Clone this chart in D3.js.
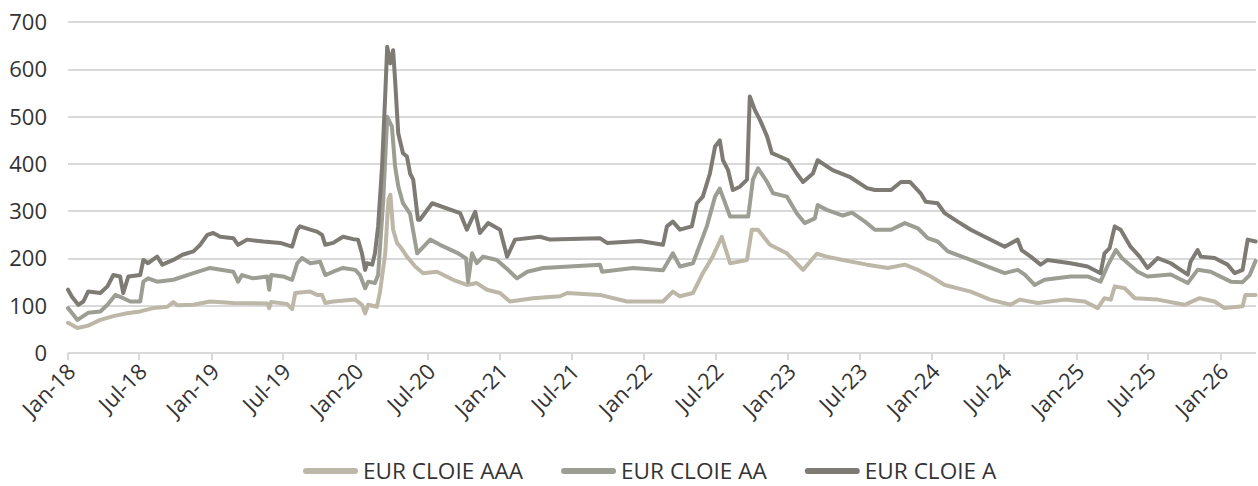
<!DOCTYPE html>
<html>
<head>
<meta charset="utf-8">
<title>EUR CLOIE spreads</title>
<script src="https://d3js.org/d3.v7.min.js"></script>
<style>
body { margin: 0; background: #fff; font-family: "Open Sans", sans-serif; }
.grid line { stroke: #d9d9d9; stroke-width: 2; shape-rendering: crispEdges; }
.tick-label { font-size: 22px; fill: #333; }
.legend-label { font-size: 22.6px; fill: #333; }
</style>
</head>
<body>
<div id="chart"></div>
<script>
// tick labels
var yTicks = [0, 100, 200, 300, 400, 500, 600, 700];
var xTickLabels = ["Jan-18", "Jul-18", "Jan-19", "Jul-19", "Jan-20", "Jul-20", "Jan-21", "Jul-21",
  "Jan-22", "Jul-22", "Jan-23", "Jul-23", "Jan-24", "Jul-24", "Jan-25", "Jul-25", "Jan-26"];
var seriesNames = ["EUR CLOIE AAA", "EUR CLOIE AA", "EUR CLOIE A"];

// values (bp)
var aaa = [
  ["2018-01-01", 64], ["2018-01-25", 53], ["2018-02-21", 58], ["2018-03-24", 70], ["2018-04-26", 78],
  ["2018-05-31", 84], ["2018-07-03", 88], ["2018-08-05", 95], ["2018-09-10", 98], ["2018-09-25", 108],
  ["2018-10-05", 101], ["2018-11-15", 102], ["2018-12-27", 109], ["2019-02-24", 106], ["2019-05-21", 105],
  ["2019-05-26", 95], ["2019-05-31", 108], ["2019-07-10", 104], ["2019-07-23", 93], ["2019-07-31", 127],
  ["2019-09-07", 130], ["2019-09-24", 123], ["2019-10-07", 123], ["2019-10-15", 106], ["2019-11-04", 109],
  ["2019-12-30", 113], ["2020-01-16", 102], ["2020-01-24", 84], ["2020-02-01", 102], ["2020-02-23", 98],
  ["2020-03-02", 130], ["2020-03-15", 211], ["2020-03-23", 324], ["2020-03-28", 335], ["2020-04-04", 261],
  ["2020-04-14", 233], ["2020-04-22", 225], ["2020-05-09", 204], ["2020-05-30", 183], ["2020-06-19", 169],
  ["2020-07-24", 172], ["2020-09-03", 155], ["2020-10-08", 144], ["2020-11-02", 148], ["2020-11-28", 134],
  ["2020-12-31", 127], ["2021-01-25", 109], ["2021-03-25", 116], ["2021-06-01", 120], ["2021-06-19", 127],
  ["2021-09-10", 123], ["2021-11-18", 109], ["2022-02-17", 109], ["2022-03-14", 130], ["2022-04-01", 120],
  ["2022-05-04", 127], ["2022-05-29", 169], ["2022-06-23", 204], ["2022-07-16", 246], ["2022-08-06", 190],
  ["2022-09-18", 197], ["2022-09-30", 261], ["2022-10-16", 261], ["2022-11-15", 229], ["2022-12-28", 211],
  ["2023-02-07", 176], ["2023-03-14", 210], ["2023-04-08", 204], ["2023-05-19", 197], ["2023-07-19", 187],
  ["2023-09-10", 180], ["2023-10-23", 187], ["2023-11-25", 176], ["2023-12-28", 162], ["2024-02-01", 144],
  ["2024-04-07", 130], ["2024-05-26", 113], ["2024-07-17", 102], ["2024-08-09", 113], ["2024-09-24", 106],
  ["2024-12-01", 113], ["2025-01-21", 109], ["2025-02-23", 95], ["2025-03-12", 116], ["2025-03-28", 113],
  ["2025-04-07", 141], ["2025-05-02", 137], ["2025-05-28", 116], ["2025-07-25", 113], ["2025-10-01", 102],
  ["2025-11-08", 116], ["2025-12-16", 109], ["2026-01-10", 95], ["2026-02-25", 99], ["2026-03-04", 123],
  ["2026-03-30", 123]
];
var aa = [
  ["2018-01-01", 95], ["2018-01-25", 70], ["2018-02-21", 85], ["2018-03-24", 88], ["2018-04-11", 102],
  ["2018-05-01", 123], ["2018-05-21", 116], ["2018-06-08", 109], ["2018-07-03", 109], ["2018-07-11", 151],
  ["2018-07-23", 158], ["2018-08-15", 151], ["2018-09-25", 155], ["2018-11-15", 169], ["2018-12-27", 180],
  ["2019-02-24", 172], ["2019-03-08", 151], ["2019-03-18", 165], ["2019-04-15", 158], ["2019-05-21", 162],
  ["2019-05-26", 134], ["2019-05-31", 165], ["2019-06-30", 162], ["2019-07-23", 155], ["2019-08-05", 190],
  ["2019-08-17", 201], ["2019-09-07", 190], ["2019-10-02", 193], ["2019-10-15", 165], ["2019-11-04", 172],
  ["2019-11-29", 180], ["2019-12-30", 176], ["2020-01-11", 165], ["2020-01-24", 137], ["2020-02-01", 151],
  ["2020-02-18", 148], ["2020-02-26", 165], ["2020-03-10", 324], ["2020-03-20", 500], ["2020-04-01", 479],
  ["2020-04-09", 395], ["2020-04-17", 353], ["2020-04-29", 317], ["2020-05-17", 295], ["2020-06-04", 211],
  ["2020-07-07", 240], ["2020-08-01", 229], ["2020-09-16", 211], ["2020-10-06", 200], ["2020-10-11", 151],
  ["2020-10-21", 211], ["2020-11-02", 190], ["2020-11-18", 204], ["2020-12-23", 197], ["2021-01-20", 176],
  ["2021-02-12", 158], ["2021-03-10", 172], ["2021-04-19", 180], ["2021-09-10", 187], ["2021-09-16", 172],
  ["2021-12-03", 180], ["2022-02-17", 175], ["2022-03-14", 211], ["2022-04-01", 183], ["2022-05-04", 190],
  ["2022-06-08", 268], ["2022-06-29", 331], ["2022-07-11", 348], ["2022-08-06", 289], ["2022-09-21", 289],
  ["2022-10-03", 367], ["2022-10-16", 391], ["2022-11-08", 362], ["2022-11-23", 338], ["2022-12-28", 331],
  ["2023-01-22", 296], ["2023-02-11", 275], ["2023-03-09", 285], ["2023-03-16", 313], ["2023-04-08", 303],
  ["2023-05-19", 291], ["2023-06-11", 297], ["2023-07-14", 278], ["2023-08-08", 261], ["2023-09-18", 261],
  ["2023-10-23", 275], ["2023-11-25", 264], ["2023-12-20", 243], ["2024-01-14", 236], ["2024-02-09", 215],
  ["2024-04-07", 197], ["2024-05-20", 183], ["2024-07-02", 169], ["2024-08-04", 176], ["2024-08-22", 166],
  ["2024-09-16", 144], ["2024-10-11", 155], ["2024-12-16", 162], ["2025-01-28", 162], ["2025-03-02", 151],
  ["2025-03-20", 185], ["2025-04-10", 218], ["2025-04-25", 201], ["2025-06-04", 172], ["2025-06-29", 162],
  ["2025-08-27", 166], ["2025-10-09", 148], ["2025-11-03", 176], ["2025-12-06", 172], ["2026-01-26", 151],
  ["2026-02-25", 150], ["2026-03-15", 165], ["2026-03-30", 195]
];
var a = [
  ["2018-01-01", 134], ["2018-01-11", 119], ["2018-01-27", 102], ["2018-02-09", 109], ["2018-02-21", 130],
  ["2018-03-24", 127], ["2018-04-11", 141], ["2018-04-26", 165], ["2018-05-13", 162], ["2018-05-21", 127],
  ["2018-06-03", 162], ["2018-07-03", 165], ["2018-07-11", 197], ["2018-07-23", 190], ["2018-08-15", 204],
  ["2018-08-28", 187], ["2018-09-25", 197], ["2018-10-18", 208], ["2018-11-15", 215], ["2018-12-02", 229],
  ["2018-12-20", 250], ["2019-01-04", 254], ["2019-01-22", 246], ["2019-02-24", 243], ["2019-03-08", 229],
  ["2019-03-31", 240], ["2019-05-11", 236], ["2019-06-23", 233], ["2019-07-23", 225], ["2019-08-05", 261],
  ["2019-08-12", 268], ["2019-09-07", 261], ["2019-09-24", 257], ["2019-10-07", 250], ["2019-10-15", 229],
  ["2019-11-04", 233], ["2019-11-29", 246], ["2019-12-25", 241], ["2020-01-06", 240], ["2020-01-16", 211],
  ["2020-01-24", 176], ["2020-01-29", 190], ["2020-02-11", 187], ["2020-02-18", 211], ["2020-02-26", 268],
  ["2020-03-07", 395], ["2020-03-15", 546], ["2020-03-20", 648], ["2020-03-28", 613], ["2020-04-04", 641],
  ["2020-04-09", 578], ["2020-04-17", 465], ["2020-04-29", 423], ["2020-05-09", 416], ["2020-05-17", 380],
  ["2020-05-25", 367], ["2020-06-06", 282], ["2020-06-11", 282], ["2020-07-12", 317], ["2020-09-21", 296],
  ["2020-10-08", 261], ["2020-10-29", 299], ["2020-11-10", 254], ["2020-12-01", 275], ["2020-12-31", 261],
  ["2021-01-18", 204], ["2021-02-07", 240], ["2021-04-11", 246], ["2021-05-07", 240], ["2021-09-10", 243],
  ["2021-09-28", 233], ["2021-12-21", 237], ["2022-02-17", 229], ["2022-02-27", 268], ["2022-03-14", 278],
  ["2022-04-01", 261], ["2022-05-01", 268], ["2022-05-14", 317], ["2022-05-29", 331], ["2022-06-16", 380],
  ["2022-06-29", 437], ["2022-07-11", 450], ["2022-07-19", 408], ["2022-08-01", 387], ["2022-08-13", 345],
  ["2022-08-31", 352], ["2022-09-18", 367], ["2022-09-25", 543], ["2022-10-08", 514], ["2022-10-21", 493],
  ["2022-11-08", 458], ["2022-11-20", 423], ["2022-12-10", 416], ["2022-12-31", 408], ["2023-01-22", 380],
  ["2023-02-07", 362], ["2023-03-04", 380], ["2023-03-16", 408], ["2023-04-23", 387], ["2023-06-05", 373],
  ["2023-07-19", 349], ["2023-08-08", 345], ["2023-09-18", 345], ["2023-10-13", 362], ["2023-11-05", 362],
  ["2023-12-02", 338], ["2023-12-15", 320], ["2024-01-14", 317], ["2024-02-01", 296], ["2024-03-05", 278],
  ["2024-04-07", 261], ["2024-05-20", 243], ["2024-07-02", 225], ["2024-08-04", 240], ["2024-08-14", 218],
  ["2024-09-06", 204], ["2024-10-01", 187], ["2024-10-19", 197], ["2024-12-16", 190], ["2025-01-28", 183],
  ["2025-03-02", 169], ["2025-03-12", 211], ["2025-03-25", 222], ["2025-04-07", 268], ["2025-04-22", 261],
  ["2025-05-17", 225], ["2025-06-09", 204], ["2025-06-29", 180], ["2025-07-25", 201], ["2025-08-27", 190],
  ["2025-10-09", 166], ["2025-10-16", 193], ["2025-11-03", 218], ["2025-11-11", 204], ["2025-12-16", 201],
  ["2026-01-18", 187], ["2026-02-05", 169], ["2026-02-25", 176], ["2026-03-10", 240], ["2026-03-30", 236]
];

var colors = ["#bdb7a8", "#9c9d93", "#7e7b75"];

var W = 1258, H = 486;
var margin = { top: 22, right: 2, bottom: 133, left: 68 };

var parseDate = d3.timeParse("%Y-%m-%d"),
    parseTick = d3.timeParse("%b-%y");

var series = [aaa, aa, a].map(function (s, i) {
  return { name: seriesNames[i], color: colors[i],
    values: s.map(function (d) { return { date: parseDate(d[0]), value: d[1] }; }) };
});

var x = d3.scaleTime()
  .domain([parseDate("2018-01-01"), parseDate("2026-03-31")])
  .range([margin.left, W - margin.right]);
var y = d3.scaleLinear()
  .domain([0, 700])
  .range([H - margin.bottom, margin.top + 0.3]);

var svg = d3.select("#chart").append("svg")
  .attr("width", W).attr("height", H);

// horizontal gridlines
svg.append("g").attr("class", "grid")
  .selectAll("line").data(yTicks).enter().append("line")
  .attr("x1", margin.left).attr("x2", W - margin.right)
  .attr("y1", function (d) { return Math.round(y(d)); })
  .attr("y2", function (d) { return Math.round(y(d)); });

// y labels
svg.append("g").selectAll("text").data(yTicks).enter().append("text")
  .attr("class", "tick-label")
  .attr("x", 47)
  .attr("y", function (d) { return y(d); })
  .attr("dy", "0.36em")
  .attr("text-anchor", "end")
  .text(function (d) { return d; });

// x ticks
var xTicks = xTickLabels.map(function (t) { return parseTick(t); });
svg.append("g").attr("class", "grid")
  .selectAll("line").data(xTicks).enter().append("line")
  .attr("x1", function (d) { return Math.round(x(d)); })
  .attr("x2", function (d) { return Math.round(x(d)); })
  .attr("y1", y(0)).attr("y2", y(0) + 7);

svg.append("g").selectAll("text").data(xTicks).enter().append("text")
  .attr("class", "tick-label")
  .attr("text-anchor", "end")
  .attr("transform", function (d) {
    return "translate(" + (x(d) + 9) + "," + (y(0) + 20) + ") rotate(-45)";
  })
  .text(function (d, i) { return xTickLabels[i]; });

// lines
var line = d3.line()
  .x(function (d) { return x(d.date); })
  .y(function (d) { return y(d.value); });

svg.append("g").selectAll("path").data(series).enter().append("path")
  .attr("d", function (d) { return line(d.values); })
  .attr("fill", "none")
  .attr("stroke", function (d) { return d.color; })
  .attr("stroke-width", 4)
  .attr("stroke-linejoin", "round")
  .attr("stroke-linecap", "round");

// legend
var lg = svg.append("g");
var lx = 303, ly = 471;
series.forEach(function (s) {
  lg.append("line")
    .attr("x1", lx + 3).attr("x2", lx + 52)
    .attr("y1", ly).attr("y2", ly)
    .attr("stroke", s.color).attr("stroke-width", 6)
    .attr("stroke-linecap", "round");
  var t = lg.append("text")
    .attr("class", "legend-label")
    .attr("x", lx + 60).attr("y", ly)
    .attr("dy", "0.34em")
    .text(s.name);
  lx += 60 + t.node().getComputedTextLength() + 38;
});
</script>
</body>
</html>
